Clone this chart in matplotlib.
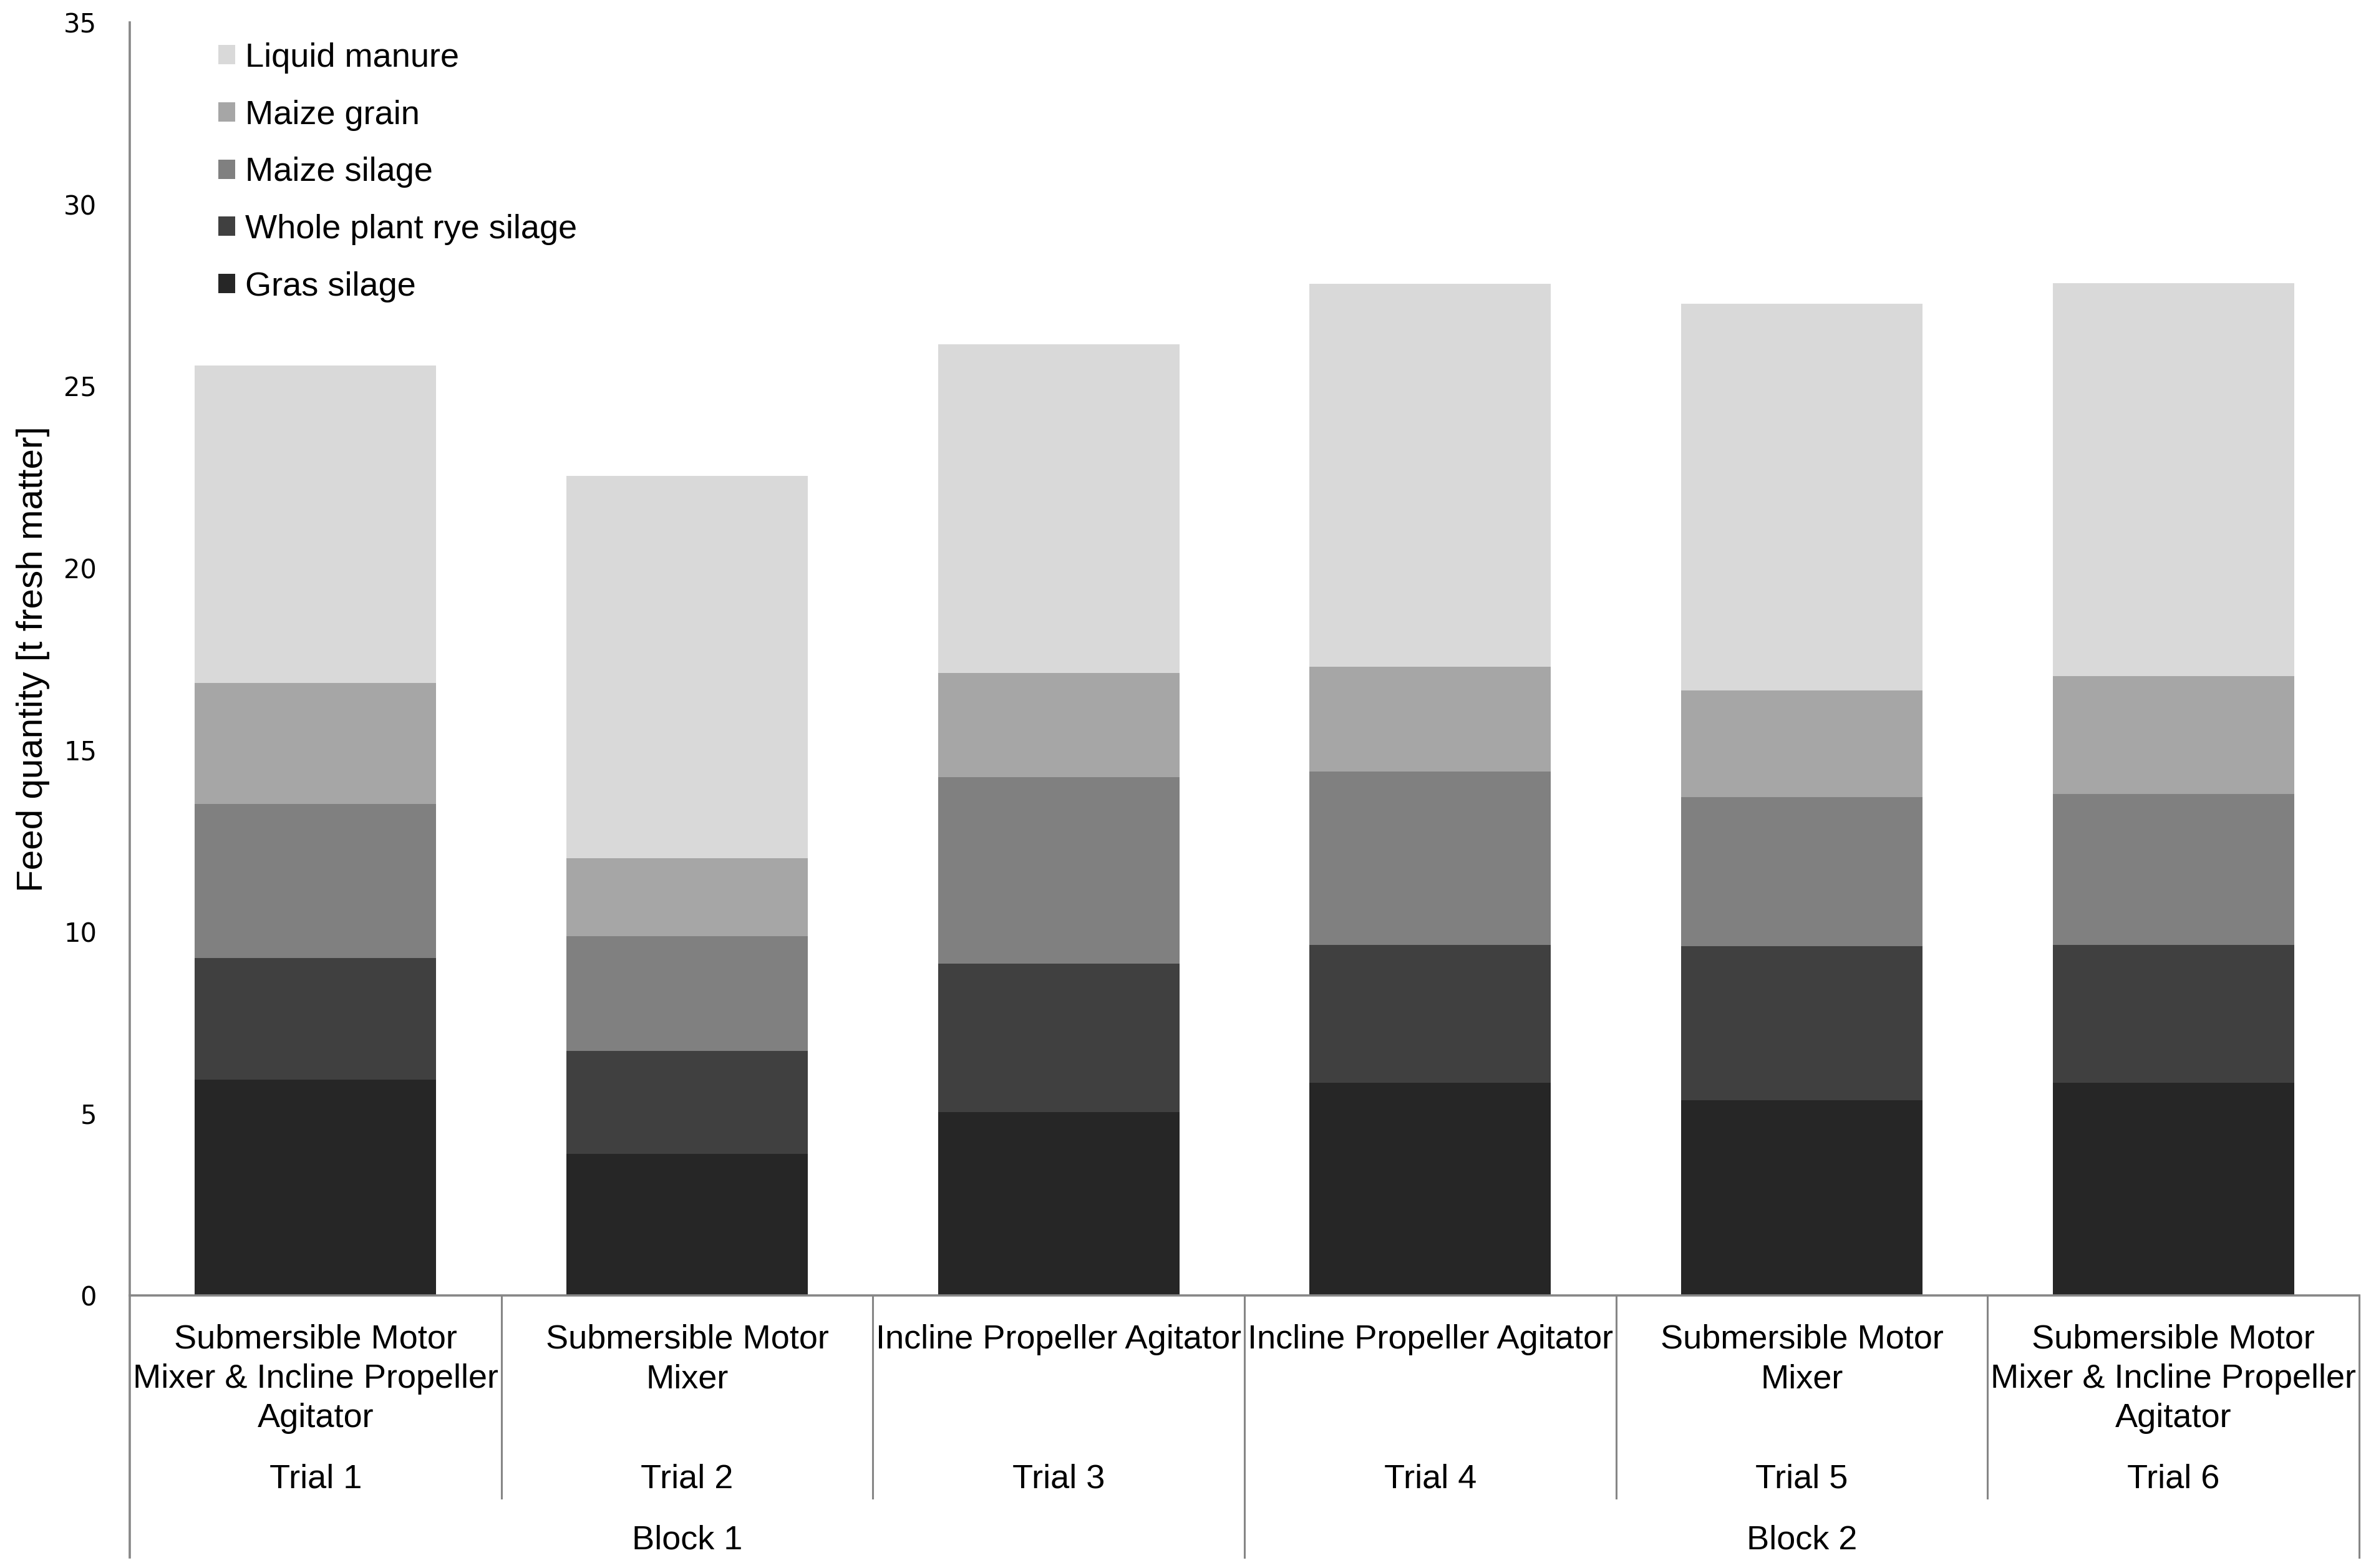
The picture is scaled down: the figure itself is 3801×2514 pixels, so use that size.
import matplotlib
matplotlib.use("Agg")
import matplotlib.pyplot as plt
from matplotlib.patches import Patch
from matplotlib.lines import Line2D
import numpy as np

# ---- data ----
trials = ["Trial 1", "Trial 2", "Trial 3", "Trial 4", "Trial 5", "Trial 6"]
mechanisms = [
    ["Submersible Motor", "Mixer & Incline Propeller", "Agitator"],
    ["Submersible Motor", "Mixer"],
    ["Incline Propeller Agitator"],
    ["Incline Propeller Agitator"],
    ["Submersible Motor", "Mixer"],
    ["Submersible Motor", "Mixer & Incline Propeller", "Agitator"],
]
blocks = ["Block 1", "Block 2"]
series_names = ["Gras silage", "Whole plant rye silage", "Maize silage",
                "Maize grain", "Liquid manure"]
gras_silage = [5.94, 3.90, 5.04, 5.85, 5.37, 5.85]
rye_silage = [3.33, 2.82, 4.09, 3.78, 4.23, 3.78]
maize_silage = [4.24, 3.16, 5.12, 4.78, 4.10, 4.15]
maize_grain = [3.33, 2.14, 2.87, 2.87, 2.93, 3.24]
liquid_manure = [8.72, 10.52, 9.03, 10.54, 10.64, 10.82]
yticks = [0, 5, 10, 15, 20, 25, 30, 35]

colors = ["#262626", "#404040", "#808080", "#a6a6a6", "#d9d9d9"]
series = [gras_silage, rye_silage, maize_silage, maize_grain, liquid_manure]

W, H = 3801, 2514
DPI = 100
fig = plt.figure(figsize=(W / DPI, H / DPI), dpi=DPI)
plt.rcParams['font.family'] = ['Liberation Sans', 'DejaVu Sans']

def fy(px):  # pixel from top -> figure fraction
    return 1 - px / H

def fx(px):
    return px / W

ax_left, ax_right = 208, 3782
ax_top, ax_bottom = 36, 2077
ax = fig.add_axes([fx(ax_left), fy(ax_bottom), fx(ax_right - ax_left),
                   (ax_bottom - ax_top) / H])

x = np.arange(len(trials))
bottom = np.zeros(len(trials))
handles = []
for name, vals, c in zip(series_names, series, colors):
    ax.bar(x, vals, width=0.65, bottom=bottom, color=c, label=name, linewidth=0)
    bottom += np.array(vals)
    handles.append(Patch(facecolor=c, edgecolor='none', label=name))

ax.set_xlim(-0.5, 5.5)
ax.set_ylim(0, 35)
ax.set_yticks(yticks)
ax.set_yticklabels([str(t) for t in yticks], fontfamily='DejaVu Sans', fontsize=30)
ax.tick_params(axis='y', length=0, pad=38)
ax.set_xticks([])
for s in ['top', 'right']:
    ax.spines[s].set_visible(False)
ax.spines['left'].set_visible(False)
ax.spines['bottom'].set_color('#868686')
ax.spines['bottom'].set_linewidth(2.6)

gray = '#868686'
# left axis line from top down to bottom of block area
fig.add_artist(Line2D([fx(ax_left)] * 2, [fy(ax_top), fy(2497)], color=gray, lw=2.6))

# category separators
cat_w = (ax_right - ax_left) / 6.0
for i in range(1, 7):
    xp = ax_left + i * cat_w
    y_end = 2497 if i in (3, 6) else 2402
    fig.add_artist(Line2D([fx(xp)] * 2, [fy(ax_bottom), fy(y_end)], color=gray, lw=2.2))

ax.set_ylabel("Feed quantity [t fresh matter]", fontsize=42, labelpad=0)
ax.yaxis.set_label_coords((80 - ax_left) / (ax_right - ax_left), 0.5)

# x labels
line_y = [2148, 2211, 2274]
for i, lines in enumerate(mechanisms):
    xc = fx(ax_left + (i + 0.5) * cat_w)
    for j, ln in enumerate(lines):
        fig.text(xc, fy(line_y[j]), ln, ha='center', va='center', fontsize=39)
    fig.text(xc, fy(2371), trials[i], ha='center', va='center', fontsize=39)
for b, name in enumerate(blocks):
    xc = fx(ax_left + (3 * b + 1.5) * cat_w)
    fig.text(xc, fy(2470), name, ha='center', va='center', fontsize=39)

leg = fig.legend(handles=handles[::-1], loc='upper left',
                 bbox_to_anchor=(fx(350), fy(68)), frameon=False,
                 fontsize=39, handlelength=0.5, handleheight=0.5,
                 handletextpad=0.3, labelspacing=0.77, borderpad=0,
                 borderaxespad=0)

fig.savefig("out.png", dpi=DPI)
